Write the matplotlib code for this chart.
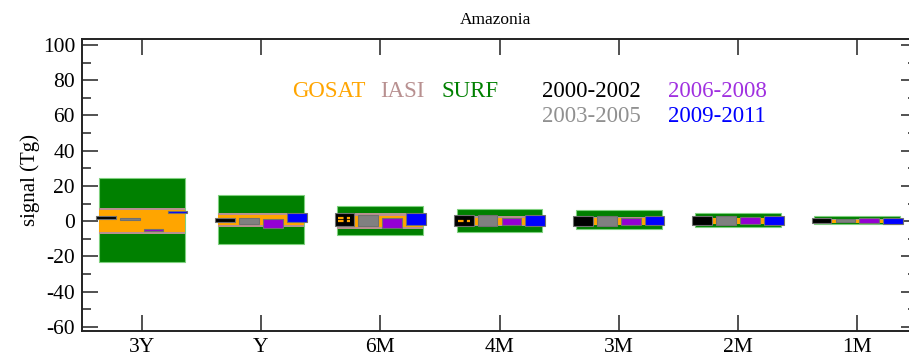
import matplotlib.pyplot as plt
import numpy as np
from matplotlib.ticker import MultipleLocator

# time scales of the signal
categories = ['3Y', 'Y', '6M', '4M', '3M', '2M', '1M']

# envelopes per data stream (Tg)
surf_hi = [24.8, 14.7, 8.5, 6.8, 6.2, 4.4, 2.8]
surf_lo = [-23.4, -13.2, -7.9, -6.4, -4.7, -3.2, -1.7]
iasi_hi = [7.5, 4.4, 4.9, 2.8, 2.6, 2.0, 1.2]
iasi_lo = [-7.0, -3.2, -4.5, -2.8, -2.4, -1.8, -1.1]
gosat_hi = [6.2, 3.4, 3.0, 2.1, 2.0, 1.7, 0.9]
gosat_lo = [-6.1, -2.3, -3.2, -2.3, -2.0, -1.5, -0.9]

# ranges per period (Tg)
periods = ['2000-2002', '2003-2005', '2006-2008', '2009-2011']
p2000_hi = [2.7, 2.1, 4.4, 3.8, 3.0, 3.0, 2.1]
p2000_lo = [1.5, -0.2, -2.7, -2.8, -2.7, -2.1, -1.1]
p2003_hi = [1.7, 2.1, 3.8, 3.4, 3.0, 2.8, 1.5]
p2003_lo = [0.6, -1.7, -2.7, -2.8, -2.7, -2.0, -0.7]
p2006_hi = [-4.5, 1.0, 2.1, 2.1, 2.1, 2.4, 1.9]
p2006_lo = [-5.8, -4.1, -3.6, -2.3, -2.3, -1.7, -1.0]
p2009_hi = [5.8, 4.4, 4.4, 3.8, 3.0, 3.0, 2.1]
p2009_lo = [4.4, -0.4, -2.3, -2.7, -1.9, -1.9, -1.3]

# gosat dashes showing through the 2000-2002 box (category index, value)
dash_cat = [2, 2, 3]
dash_val = [1.9, 0.2, 0.2]

plt.rcParams['font.family'] = ['Liberation Serif', 'DejaVu Serif']
plt.rcParams['axes.unicode_minus'] = False

fig = plt.figure(figsize=(9.09, 3.62), dpi=100)
ax = fig.add_axes([82 / 909, 31 / 362, 835 / 909, 292 / 362])

x = np.arange(1, len(categories) + 1)
wide = 0.72

def box(xpos, lo, hi, width, color, edge, lw=0.8):
    lo = np.array(lo)
    hi = np.array(hi)
    ax.bar(xpos, hi - lo, bottom=lo, width=width, color=color,
           edgecolor=edge, linewidth=lw, zorder=2)

box(x, surf_lo, surf_hi, wide, 'green', '#7fd07f')
box(x, iasi_lo, iasi_hi, wide, '#b89090', 'none')
box(x, gosat_lo, gosat_hi, wide, 'orange', 'none')

period_cols = ['black', 'gray', 'darkviolet', 'blue']
period_lo = [p2000_lo, p2003_lo, p2006_lo, p2009_lo]
period_hi = [p2000_hi, p2003_hi, p2006_hi, p2009_hi]
offsets = [-0.3, -0.1, 0.1, 0.3]
for off, col, lo, hi in zip(offsets, period_cols, period_lo, period_hi):
    box(x + off, lo, hi, 0.165, col, '#707070')

dx = x[dash_cat] + offsets[0]
ax.hlines(dash_val, dx - 0.05, dx + 0.05, colors='orange', linewidth=1.6,
          linestyles=(0, (2.5, 1.5)), zorder=3)

ax.set_xlim(0.5, 7.5)
ax.set_ylim(-62.3, 103.4)
ax.set_xticks(x)
ax.set_xticklabels(categories)
ax.yaxis.set_major_locator(MultipleLocator(20))
ax.yaxis.set_minor_locator(MultipleLocator(10))
ax.tick_params(axis='both', which='both', direction='in', top=True, right=True,
               labelsize=15.5, pad=5, color='#222222')
ax.tick_params(which='major', length=11.5, width=1.1)
ax.tick_params(which='minor', length=6.5, width=1.1)
ax.tick_params(axis='x', which='minor', bottom=False, top=False)
for s in ax.spines.values():
    s.set_linewidth(1.4)
    s.set_color('#222222')

fig.text(495.5 / 909, 338 / 362, 'Amazonia', ha='center', va='baseline', fontsize=12.5)
fig.text(30 / 909, 182 / 362, 'signal (Tg)', rotation=90, ha='center', va='center',
         fontsize=15)

# legend as coloured words
fs = 16.5
fig.text(291.7 / 909, 264.7 / 362, 'GOSAT', color='orange', fontsize=fs, va='baseline')
fig.text(380 / 909, 264.7 / 362, 'IASI', color='#b89090', fontsize=fs, va='baseline')
fig.text(441.7 / 909, 264.7 / 362, 'SURF', color='green', fontsize=fs, va='baseline')
text_cols = ['black', '#909090', '#a030e0', 'blue']
pos = [(541.7, 264.7), (541.7, 240.3), (668, 264.7), (668, 240.3)]
for lab, col, (px, py) in zip(periods, text_cols, pos):
    fig.text(px / 909, py / 362, lab, color=col, fontsize=fs, va='baseline')

fig.savefig('out.png', dpi=100)
